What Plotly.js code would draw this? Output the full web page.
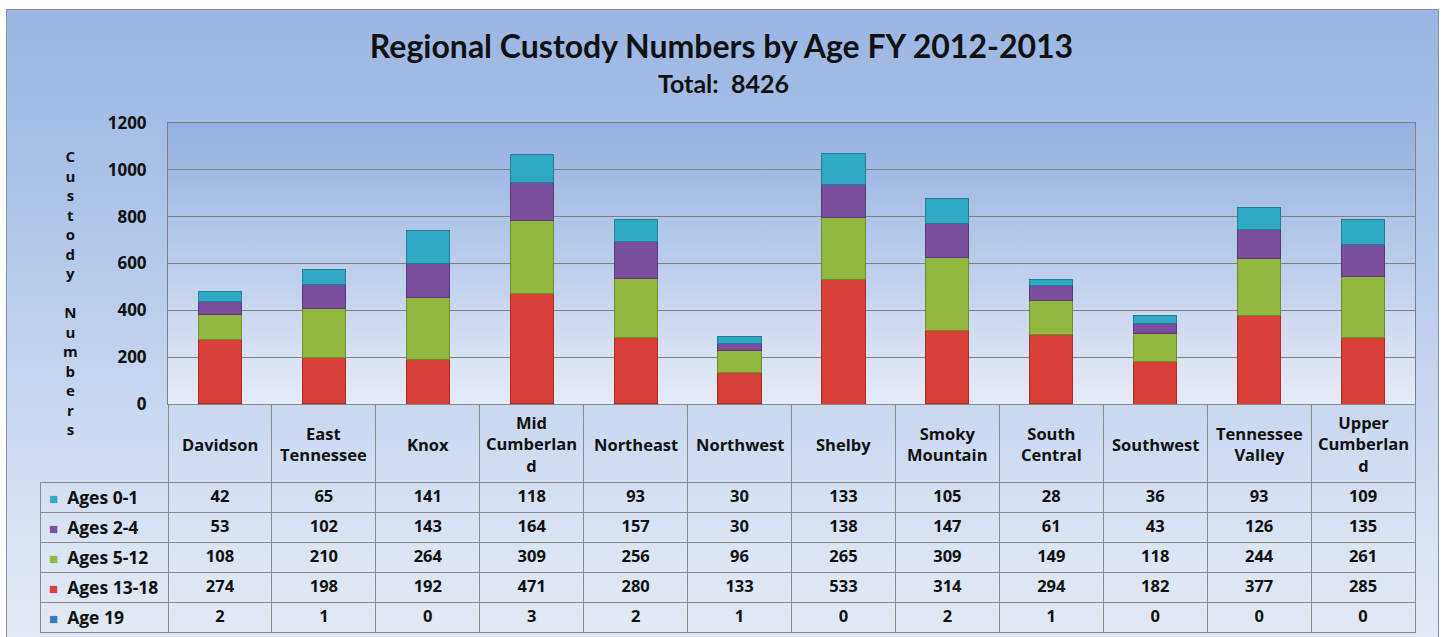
<!DOCTYPE html>
<html><head><meta charset="utf-8">
<script src="https://cdn.plot.ly/plotly-3.0.1.min.js"></script>
<style>
html,body{margin:0;padding:0;background:#ffffff;overflow:hidden;}
#frame{position:absolute;left:6px;top:9px;width:1431px;height:640px;border:1px solid #8593a8;
 background:linear-gradient(to bottom,#9bb6e3 0%,#a9c1e8 25%,#c3d3ee 55%,#dce5f3 85%,#e3eaf5 100%);}
#chart{position:absolute;left:0;top:0;width:1443px;height:637px;}
</style></head>
<body>
<div id="frame"></div>
<div id="chart"></div>
<script>
const categories = ['Davidson','East Tennessee','Knox','Mid Cumberland','Northeast','Northwest','Shelby','Smoky Mountain','South Central','Southwest','Tennessee Valley','Upper Cumberland'];
const headerLabels = ['Davidson','East<br>Tennessee','Knox','Mid<br>Cumberlan<br>d','Northeast','Northwest','Shelby','Smoky<br>Mountain','South<br>Central','Southwest','Tennessee<br>Valley','Upper<br>Cumberlan<br>d'];
const seriesNames = ['Ages 0-1','Ages 2-4','Ages 5-12','Ages 13-18','Age 19'];
const ages0_1   = [42,65,141,118,93,30,133,105,28,36,93,109];
const ages2_4   = [53,102,143,164,157,30,138,147,61,43,126,135];
const ages5_12  = [108,210,264,309,256,96,265,309,149,118,244,261];
const ages13_18 = [274,198,192,471,280,133,533,314,294,182,377,285];
const age19     = [2,1,0,3,2,1,0,2,1,0,0,0];
const yTicks = [0,200,400,600,800,1000,1200];
const titleText = 'Regional Custody Numbers by Age FY 2012-2013';
const subtitleText = 'Total:\u00a0\u00a08426';
const yTitle = 'Custody Numbers';

const colors = {'Ages 0-1':'#2fa9c4','Ages 2-4':'#7a4f9e','Ages 5-12':'#93b840','Ages 13-18':'#d8403a','Age 19':'#3a78c0'};
const edge = {'Ages 0-1':'#1f7f95','Ages 2-4':'#5a3878','Ages 5-12':'#6e8c2c','Ages 13-18':'#a82c28','Age 19':'#2a5890'};
const seriesData = {'Ages 0-1':ages0_1,'Ages 2-4':ages2_4,'Ages 5-12':ages5_12,'Ages 13-18':ages13_18,'Age 19':age19};

const W = 1443, H = 637;
const mL = 40, mR = 28, mT = 123, mB = 3;
const plotW = W - mL - mR, plotH = H - mT - mB;
const labelColW = 128;
const xStart = labelColW / plotW;
const axisBottomPx = 404;
const headerH = 78, rowH = 30;
const yDomStart = (H - mB - axisBottomPx) / plotH;
const py = px => (H - mB - px) / plotH;   // pixel row -> paper y
const px2 = p => (p - mL) / plotW;        // pixel col -> paper x

const stackOrder = ['Age 19','Ages 13-18','Ages 5-12','Ages 2-4','Ages 0-1'];
const traces = stackOrder.map(n => ({
  type:'bar', name:n, x:categories, y:seriesData[n],
  marker:{color:colors[n], line:{color:edge[n], width:1}},
  hoverinfo:'x+y+name', showlegend:false
}));

const colVals = [seriesNames.map(() => '')];
categories.forEach((c,i)=>{ colVals.push(seriesNames.map(n=>String(seriesData[n][i]))); });

const nCols = categories.length;
const colW = (plotW - labelColW) / nCols;
const cellFont = {family:'Open Sans, sans-serif', size:16.5, color:'#111', weight:'bold'};
traces.push({
  type:'table',
  domain:{x:[0,1], y:[0, yDomStart]},
  columnwidth:[labelColW].concat(new Array(nCols).fill(colW)),
  header:{
    values:new Array(nCols+1).fill(''), height:headerH, align:'center',
    font:cellFont,
    fill:{color:'rgba(0,0,0,0)'},
    line:{color:['rgba(0,0,0,0)'].concat(new Array(nCols).fill('#8a8a8a')), width:1}
  },
  cells:{
    values:colVals, height:rowH,
    align:['left'].concat(new Array(nCols).fill('center')),
    font:cellFont,
    fill:{color:'rgba(0,0,0,0)'},
    line:{color:'#8a8a8a', width:1}
  }
});

const grad = "<svg xmlns='http://www.w3.org/2000/svg' width='10' height='100' preserveAspectRatio='none'><defs><linearGradient id='g' x1='0' y1='0' x2='0' y2='1'><stop offset='0' stop-color='#93b0df'/><stop offset='0.5' stop-color='#bccdeb'/><stop offset='1' stop-color='#e6ecf6'/></linearGradient></defs><rect width='10' height='100' fill='url(#g)'/></svg>";

const headFont = {family:'Open Sans, sans-serif', size:16.5, color:'#111', weight:'bold'};
const annotations = headerLabels.map((h,i)=>({
  text:h, xref:'x', yref:'paper', x:categories[i], y:py(axisBottomPx + headerH/2 + 1), xanchor:'center', yanchor:'middle',
  showarrow:false, align:'center', font:headFont
}));
// series labels with legend keys in the table's label column
seriesNames.forEach((n,i)=>{
  annotations.push({text:`<span style="color:${colors[n]};font-size:15px">■</span>\u00a0 ${n}`,
    xref:'paper', yref:'paper', x:px2(47), y:py(axisBottomPx + headerH + rowH*i + rowH/2),
    xanchor:'left', yanchor:'middle', showarrow:false, align:'left',
    font:{family:'Open Sans, sans-serif', size:17.5, color:'#111', weight:'bold'}});
});
annotations.push({text:yTitle.split('').map(ch=>ch===' '?'':ch).join('<br>'),
    xref:'paper', yref:'paper', x:px2(70), y:py(292), xanchor:'center', yanchor:'middle',
    showarrow:false, align:'center',
    font:{family:'Open Sans, sans-serif', size:15, color:'#111', weight:'bold'}});
annotations.push({text:subtitleText, xref:'paper', yref:'paper', x:px2(723), y:py(83),
    xanchor:'center', yanchor:'middle', showarrow:false,
    font:{family:'Lato, Open Sans, sans-serif', size:25, color:'#111', weight:'bold'}});

const layout = {
  width:W, height:H,
  margin:{l:mL, r:mR, t:mT, b:mB, pad:0},
  paper_bgcolor:'rgba(0,0,0,0)', plot_bgcolor:'rgba(0,0,0,0)',
  barmode:'stack', bargap:0.585,
  font:{family:'Open Sans, sans-serif', color:'#111'},
  title:{text:titleText,
    font:{family:'Lato, Open Sans, sans-serif', size:32, color:'#111', weight:'bold'},
    x:0.5, xanchor:'center', xref:'container', y:1 - 47/H, yanchor:'middle', yref:'container'},
  xaxis:{domain:[xStart,1], showticklabels:false, showgrid:false, zeroline:false,
    showline:true, mirror:true, linecolor:'#7f7f7f', linewidth:1, fixedrange:true,
    categoryorder:'array', categoryarray:categories},
  yaxis:{domain:[yDomStart,1], range:[0,1200], tickvals:yTicks, ticktext:yTicks.map(String),
    showgrid:true, gridcolor:'#808080', gridwidth:1, zeroline:false,
    showline:true, mirror:true, linecolor:'#7f7f7f', linewidth:1,
    ticks:'', ticklabelstandoff:17,
    tickfont:{family:'Open Sans, sans-serif', size:17, color:'#111', weight:'bold'}, fixedrange:true},
  images:[{source:'data:image/svg+xml;base64,' + btoa(grad), xref:'x domain', yref:'y domain',
    x:0, y:1, sizex:1, sizey:1, xanchor:'left', yanchor:'top', sizing:'stretch', layer:'below'}],
  annotations:annotations
};

Plotly.newPlot('chart', traces, layout, {displayModeBar:false, staticPlot:true});
</script>
</body></html>
